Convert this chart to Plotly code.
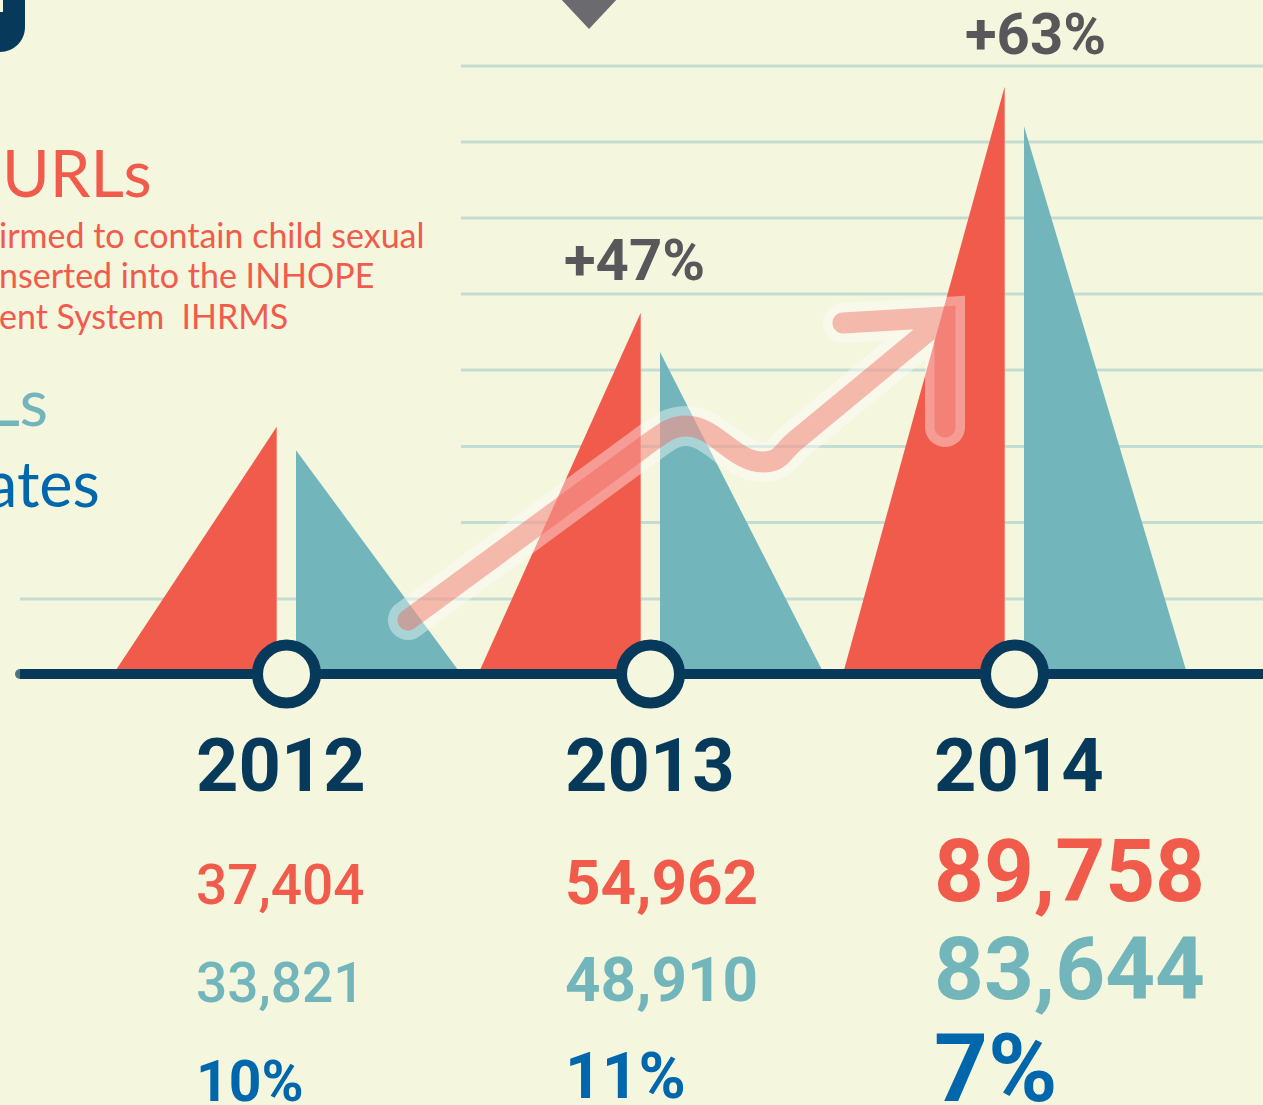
import math
import plotly.graph_objects as go

# ---------------- data ----------------
years = [2012, 2013, 2014]
reported_urls = [37404, 54962, 89758]
unique_urls = [33821, 48910, 83644]
share_pct = [10, 11, 7]
growth_labels = ["", "+47%", "+63%"]

left_title = "URLs"
left_lines = ["irmed to contain child sexual", "nserted into the INHOPE", "ent System\u00a0 IHRMS"]
left_teal = "Ls"
left_blue = "ates"

# ---------------- styles ----------------
W, H = 1263, 1105
BG = "#F4F6DE"
RED = "#F15B4C"
TEAL = "#72B6BB"
NAVY = "#073A5A"
BLUE = "#0067AD"
GRAY = "#58585A"
GRIDC = "#C5DCD3"
NUMFONT = "Roboto"
TXTFONT = "Lato"

PX_PER_YEAR = 364.0
X_CENTER_PX = 286.5      # pixel of first year
BASE_PX = 670.0          # pixel of value 0
K = 0.0065               # pixels per unit value


def px2x(p):
    return years[0] + (p - X_CENTER_PX) / PX_PER_YEAR


def py2y(p):
    return (BASE_PX - p) / K


def fx(p):
    return p / W


def fy(p):
    return 1 - p / H


fig = go.Figure()

# triangles (red = reported, teal = unique)
for yr, r, u in zip(years, reported_urls, unique_urls):
    xl = yr - 170.5 / PX_PER_YEAR
    xr_red = yr - 9.8 / PX_PER_YEAR
    fig.add_trace(go.Scatter(x=[xl, xr_red, xr_red, xl], y=[0, r, 0, 0], fill="toself",
                             fillcolor=RED, line=dict(width=0), mode="lines",
                             hoverinfo="skip", showlegend=False))
    xt = yr + 9.5 / PX_PER_YEAR
    xe = yr + 171.5 / PX_PER_YEAR
    fig.add_trace(go.Scatter(x=[xt, xt, xe, xt], y=[0, u, 0, 0], fill="toself",
                             fillcolor=TEAL, line=dict(width=0), mode="lines",
                             hoverinfo="skip", showlegend=False))

# baseline
fig.add_trace(go.Scatter(x=[px2x(20), px2x(W + 20)], y=[py2y(674), py2y(674)],
                         mode="lines+markers", line=dict(color=NAVY, width=10),
                         marker=dict(size=[10, 0], color=NAVY, line=dict(width=0)),
                         hoverinfo="skip", showlegend=False))
# year circles
fig.add_trace(go.Scatter(x=years, y=[py2y(674)] * len(years), mode="markers",
                         marker=dict(size=58, color=BG, line=dict(color=NAVY, width=11)),
                         hoverinfo="skip", showlegend=False))

shapes = []
# gridlines
grid_rows = [66, 142, 218, 294, 370, 446.5, 522.5]
for gp in grid_rows:
    shapes.append(dict(type="line", xref="x", yref="y", x0=px2x(461), x1=px2x(W + 5),
                       y0=py2y(gp), y1=py2y(gp), line=dict(color=GRIDC, width=3), layer="below"))
shapes.append(dict(type="line", xref="x", yref="y", x0=px2x(20), x1=px2x(W + 5),
                   y0=py2y(599), y1=py2y(599), line=dict(color=GRIDC, width=3), layer="below"))


def P(p):
    return f"{px2x(p[0]):.6f},{py2y(p[1]):.3f}"


def build(cmds):
    return " ".join(c + " " + " ".join(P(p) for p in ps) for c, ps in cmds)


def half_disc(c, toward, R, n=24):
    # semicircle cap at point c, bulging away from point `toward`
    dx, dy = c[0] - toward[0], c[1] - toward[1]
    L = math.hypot(dx, dy)
    dx, dy = dx / L, dy / L
    nx, ny = -dy, dx
    pts = []
    for i in range(n + 1):
        phi = -math.pi / 2 + math.pi * i / n
        pts.append((c[0] + R * (math.cos(phi) * dx + math.sin(phi) * nx),
                    c[1] + R * (math.cos(phi) * dy + math.sin(phi) * ny)))
    return "M " + " L ".join(P(p) for p in pts) + " Z"


CORNER = (945, 317)
arrow_cmds = [
    ("M", [(408, 620)]), ("L", [(645, 446)]),
    ("C", [(665, 431.2), (672, 426), (686, 426)]),
    ("C", [(716, 426), (733, 462), (763, 462)]),
    ("C", [(781, 462), (782, 452), (795, 441)]),
    ("L", [CORNER]),
    ("M", [(843, 323)]), ("L", [CORNER]), ("L", [(945, 427)]),
]
arrow_path = build(arrow_cmds)
caps = [((408, 620), (645, 446)), ((843, 323), CORNER), ((945, 427), CORNER)]

for color, width in [("white", 40), (RED, 21)]:
    shapes.append(dict(type="path", xref="x", yref="y", path=arrow_path,
                       line=dict(color=color, width=width), opacity=0.4, layer="above"))
    cap_path = " ".join(half_disc(c, t, width / 2) for c, t in caps)
    shapes.append(dict(type="path", xref="x", yref="y", path=cap_path,
                       fillcolor=color, line=dict(width=0), opacity=0.4, layer="above"))

# top-left navy corner and top grey marker
navy_cmds = [("M", [(-40, -40)]), ("L", [(25, -40)]), ("L", [(25, 27)]),
             ("C", [(25, 40.8), (13.8, 52), (0, 52)]), ("L", [(-40, 52)])]
shapes.append(dict(type="path", xref="x", yref="y", path=build(navy_cmds) + " Z",
                   fillcolor=NAVY, line=dict(width=0), layer="above"))
shapes.append(dict(type="rect", xref="x", yref="y", x0=px2x(-5), x1=px2x(3), y0=py2y(-5), y1=py2y(12),
                   fillcolor=BG, line=dict(width=0), layer="above"))
tri_cmds = [("M", [(559, -3)]), ("L", [(619, -3)]), ("L", [(589, 29)])]
shapes.append(dict(type="path", xref="x", yref="y", path=build(tri_cmds) + " Z",
                   fillcolor="#6B6B6F", line=dict(width=0), layer="above"))

ann = []


def text(s, xp, yp, size, color, family=NUMFONT, weight=700, xanchor="left"):
    ann.append(dict(text=s, x=fx(xp), y=fy(yp), xref="paper", yref="paper",
                    xanchor=xanchor, yanchor="middle", showarrow=False,
                    font=dict(family=family, size=size, color=color, weight=weight)))


# growth labels above the red peaks
growth_shift = [0, -16.5, 21]
for yr, r, g, sh in zip(years, reported_urls, growth_labels, growth_shift):
    if g:
        ann.append(dict(text=g, x=yr, y=r, xref="x", yref="y", xshift=sh, yshift=53,
                        xanchor="center", yanchor="middle", showarrow=False,
                        font=dict(family=NUMFONT, size=58, color=GRAY, weight=700)))

# year columns
lefts = [194, 563, 932]
num_sizes = [55, 62, 87]
pct_sizes = [57, 64, 94]
num_weights = [500, 700, 700]
red_y = [885, 882.5, 870.5]
teal_y = [983.5, 979, 969]
pct_y = [1081, 1076.5, 1069]
for i, yr in enumerate(years):
    text(str(yr), lefts[i], 765, 74, NAVY)
    text(f"{reported_urls[i]:,}", lefts[i], red_y[i], num_sizes[i], RED, weight=num_weights[i])
    text(f"{unique_urls[i]:,}", lefts[i], teal_y[i], num_sizes[i], TEAL, weight=num_weights[i])
    text(f"{share_pct[i]}%", lefts[i], pct_y[i], pct_sizes[i], BLUE, weight=700)

# left-side legend fragments
text(left_title, 154, 172, 65, RED, family=TXTFONT, weight=400, xanchor="right")
for s, yp in zip(left_lines, [234, 274.5, 315.5]):
    text(s, -3, yp, 34, RED, family=TXTFONT, weight=400, xanchor="left")
text(left_teal, 50, 400, 66, TEAL, family=TXTFONT, weight=400, xanchor="right")
text(left_blue, 102, 482, 63, BLUE, family=TXTFONT, weight=400, xanchor="right")

fig.update_layout(
    width=W, height=H, autosize=False,
    margin=dict(l=0, r=0, t=0, b=0, pad=0),
    paper_bgcolor=BG, plot_bgcolor=BG,
    xaxis=dict(range=[px2x(0), px2x(W)], visible=False, fixedrange=True),
    yaxis=dict(range=[py2y(H), py2y(0)], visible=False, fixedrange=True),
    shapes=shapes, annotations=ann, showlegend=False,
)

fig.write_html("out.html", config={"displayModeBar": False})
